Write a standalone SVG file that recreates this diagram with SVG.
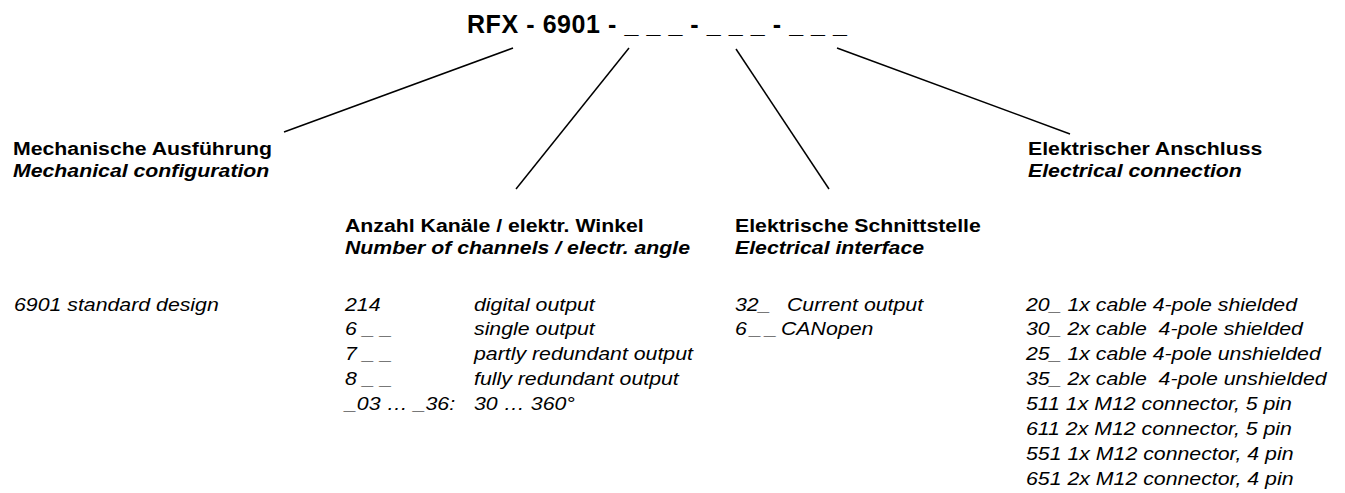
<svg xmlns="http://www.w3.org/2000/svg" width="1345" height="493" viewBox="0 0 1345 493">
<style>
text{font-family:"Liberation Sans",Arial,Helvetica,sans-serif;fill:#000;white-space:pre}
.t{font-size:25px;font-weight:bold}
.h{font-size:18.5px;font-weight:bold}
.hi{font-size:18.5px;font-weight:bold;font-style:italic}
.i{font-size:17.5px;font-style:italic}
.c line{stroke:#000;stroke-width:1.5;fill:none}
</style>
<rect width="1345" height="493" fill="#fff"/>
<g id="title">
<text class="t" x="467" y="33" textLength="380" lengthAdjust="spacing">RFX - 6901 - _ _ _ - _ _ _ - _ _ _</text>
</g>
<g id="connectors" class="c">
<line x1="513" y1="48" x2="284" y2="132"/>
<line x1="629" y1="48" x2="516" y2="189"/>
<line x1="736" y1="49" x2="829" y2="189"/>
<line x1="837" y1="48" x2="1070" y2="134"/>
</g>
<g id="mechanical">
<text class="h" transform="translate(13 155) scale(1.15 1)">Mechanische Ausführung</text>
<text class="hi" transform="translate(13 177) scale(1.15 1)">Mechanical configuration</text>
<text class="i" transform="translate(14 310.5) scale(1.217 1)">6901 standard design</text>
</g>
<g id="channels">
<text class="h" transform="translate(345 232) scale(1.15 1)">Anzahl Kanäle / elektr. Winkel</text>
<text class="hi" transform="translate(345 254) scale(1.15 1)">Number of channels / electr. angle</text>
<text class="i" transform="translate(345 310.5) scale(1.217 1)">214</text>
<text class="i" transform="translate(474 310.5) scale(1.217 1)">digital output</text>
<text class="i" transform="translate(345 335.4) scale(1.217 1)">6 _ _</text>
<text class="i" transform="translate(474 335.4) scale(1.217 1)">single output</text>
<text class="i" transform="translate(345 360.3) scale(1.217 1)">7 _ _</text>
<text class="i" transform="translate(474 360.3) scale(1.217 1)">partly redundant output</text>
<text class="i" transform="translate(345 385.2) scale(1.217 1)">8 _ _</text>
<text class="i" transform="translate(474 385.2) scale(1.217 1)">fully redundant output</text>
<text class="i" transform="translate(345 410.1) scale(1.217 1)">_03 … _36:</text>
<text class="i" transform="translate(474 410.1) scale(1.217 1)">30 … 360°</text>
</g>
<g id="interface">
<text class="h" transform="translate(735 232) scale(1.15 1)">Elektrische Schnittstelle</text>
<text class="hi" transform="translate(735 254) scale(1.15 1)">Electrical interface</text>
<text class="i" transform="translate(735 310.5) scale(1.217 1)">32_</text>
<text class="i" transform="translate(787 310.5) scale(1.217 1)">Current output</text>
<text class="i" transform="translate(735 335.4) scale(1.217 1)" textLength="34.5" lengthAdjust="spacing">6 _ _</text>
<text class="i" transform="translate(781 335.4) scale(1.217 1)">CANopen</text>
</g>
<g id="connection">
<text class="h" transform="translate(1028 155) scale(1.15 1)">Elektrischer Anschluss</text>
<text class="hi" transform="translate(1028 177) scale(1.15 1)">Electrical connection</text>
<text class="i" transform="translate(1026 310.5) scale(1.217 1)">20_ 1x cable 4-pole shielded</text>
<text class="i" transform="translate(1026 335.4) scale(1.217 1)">30_ 2x cable  4-pole shielded</text>
<text class="i" transform="translate(1026 360.3) scale(1.217 1)">25_ 1x cable 4-pole unshielded</text>
<text class="i" transform="translate(1026 385.2) scale(1.217 1)">35_ 2x cable  4-pole unshielded</text>
<text class="i" transform="translate(1026 410.1) scale(1.217 1)">511 1x M12 connector, 5 pin</text>
<text class="i" transform="translate(1026 435) scale(1.217 1)">611 2x M12 connector, 5 pin</text>
<text class="i" transform="translate(1026 459.9) scale(1.217 1)">551 1x M12 connector, 4 pin</text>
<text class="i" transform="translate(1026 484.8) scale(1.217 1)">651 2x M12 connector, 4 pin</text>
</g>
</svg>
